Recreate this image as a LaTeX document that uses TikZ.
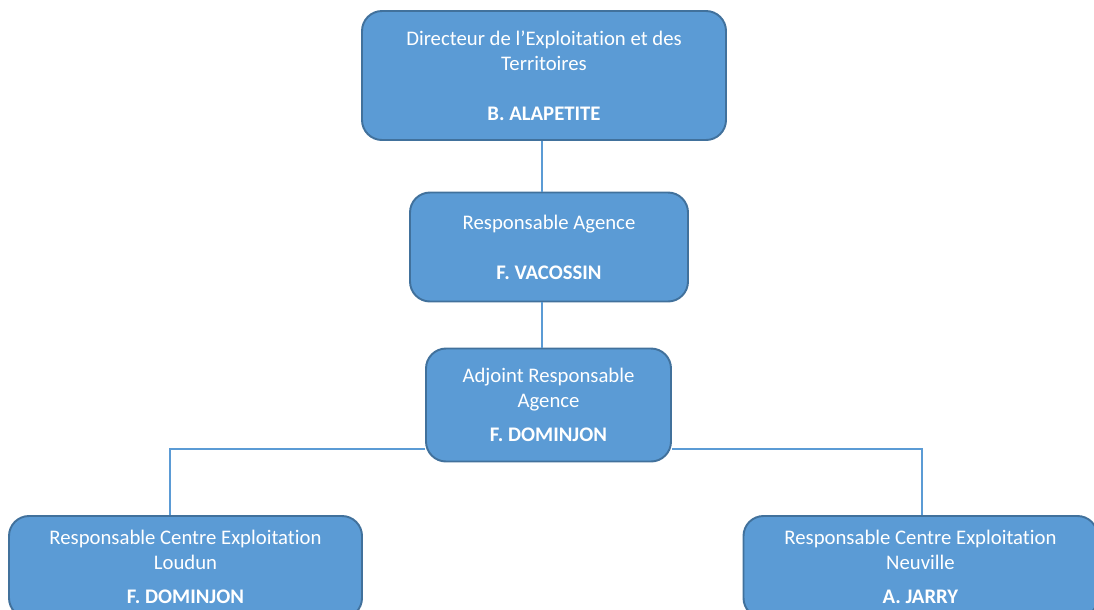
\documentclass[tikz,border=0pt]{standalone}
\usepackage{fontspec}
\setmainfont{Carlito}[Ligatures={NoCommon}]
\usepackage{tikz}
\usetikzlibrary{calc}
\definecolor{boxfill}{HTML}{5B9BD5}
\definecolor{boxline}{HTML}{41719C}
\tikzset{
	post/.style={draw=boxline, fill=boxfill, line width=1.1pt, rounded corners=0.4cm, text=white, align=center, inner sep=0pt, font=\fontsize{11.8}{14.2}\selectfont},
	link/.style={draw=boxfill, line width=0.6pt}
}
\begin{document}
\begin{tikzpicture}[x=0.02cm, y=-0.02cm]
		%%%%% START %%%%%
		
		\path[use as bounding box, clip] (0, 0) rectangle (1094, 609);
		
		\node[post, minimum width=364*0.02cm, minimum height=129*0.02cm] (dir) at (544, 75.5) {Directeur de l’Exploitation et des\\Territoires\\ \\\textbf{B. ALAPETITE}};
		\node[post, minimum width=278*0.02cm, minimum height=109*0.02cm] (agence) at (549, 247) {Responsable Agence\\ \\\textbf{F. VACOSSIN}};
		\node[post, minimum width=245*0.02cm, minimum height=113*0.02cm] (adjoint) at (548.5, 405) {Adjoint Responsable\\Agence\\[5pt]\textbf{F. DOMINJON}};
		
		\node[post, minimum width=353*0.02cm, minimum height=102*0.02cm] (loudun) at (185.5, 567) {Responsable Centre Exploitation\\Loudun\\[5pt]\textbf{F. DOMINJON}};
		\node[post, minimum width=354*0.02cm, minimum height=102*0.02cm] (neuville) at (920.5, 567) {Responsable Centre Exploitation\\Neuville\\[5pt]\textbf{A. JARRY}};
		
		\coordinate (spine) at (542, 0);
		\coordinate (dropL) at (170, 449);
		\coordinate (dropR) at (922, 449);
		
		\draw[link] (spine |- dir.south) -- (spine |- agence.north);
		\draw[link] (spine |- agence.south) -- (spine |- adjoint.north);
		\draw[link] (adjoint.west |- dropL) -- (dropL) -- (dropL |- loudun.north);
		\draw[link] (adjoint.east |- dropR) -- (dropR) -- (dropR |- neuville.north);
		
		%%%%% END %%%%%
	\end{tikzpicture}
\end{document}
